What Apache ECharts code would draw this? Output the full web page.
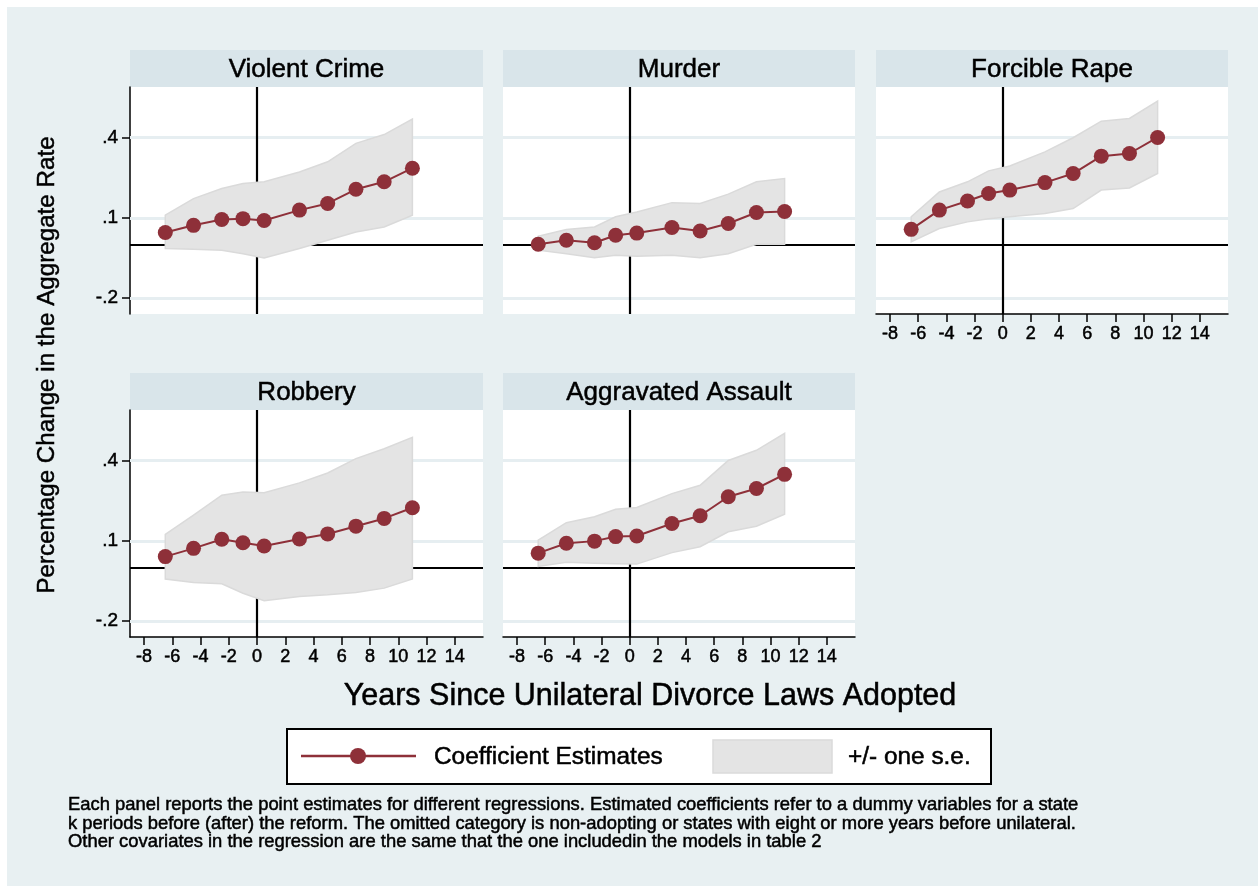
<!DOCTYPE html>
<html><head><meta charset="utf-8">
<script src="https://cdn.jsdelivr.net/npm/echarts@6/dist/echarts.min.js"></script>
<style>html,body{margin:0;padding:0;background:#fff}#c{width:1258px;height:886px}</style>
</head><body><div id="c"></div>
<script>
// ---------- data ----------
const panelTitles = ['Violent Crime', 'Murder', 'Forcible Rape', 'Robbery', 'Aggravated Assault'];
const years = [-6.5, -4.5, -2.5, -1, 0.5, 3, 5, 7, 9, 11];
const xTickValues = [-8, -6, -4, -2, 0, 2, 4, 6, 8, 10, 12, 14];
const yTickValues = [-0.2, 0.1, 0.4];
const yTickLabels = ['-.2', '.1', '.4'];

const violentEst = [0.045, 0.072, 0.094, 0.097, 0.090, 0.129, 0.154, 0.207, 0.235, 0.286];
const violentLo  = [-0.015, -0.018, -0.021, -0.034, -0.050, -0.015, 0.016, 0.047, 0.066, 0.110];
const violentHi  = [0.110, 0.172, 0.210, 0.229, 0.235, 0.272, 0.310, 0.379, 0.412, 0.470];

const murderEst = [0.001, 0.016, 0.007, 0.035, 0.043, 0.064, 0.051, 0.079, 0.120, 0.124];
const murderLo  = [-0.021, -0.034, -0.049, -0.040, -0.044, -0.040, -0.049, -0.034, 0.001, 0.001];
const murderHi  = [0.031, 0.056, 0.066, 0.104, 0.122, 0.157, 0.154, 0.189, 0.235, 0.247];

const rapeEst = [0.057, 0.129, 0.163, 0.191, 0.204, 0.232, 0.266, 0.331, 0.341, 0.401];
const rapeLo  = [0.010, 0.060, 0.085, 0.097, 0.104, 0.116, 0.135, 0.204, 0.212, 0.266];
const rapeHi  = [0.104, 0.197, 0.235, 0.276, 0.294, 0.347, 0.400, 0.462, 0.472, 0.537];

const robberyEst = [0.041, 0.072, 0.106, 0.093, 0.081, 0.107, 0.126, 0.155, 0.184, 0.224];
const robberyLo  = [-0.043, -0.056, -0.061, -0.096, -0.124, -0.108, -0.102, -0.093, -0.077, -0.043];
const robberyHi  = [0.124, 0.196, 0.271, 0.283, 0.280, 0.317, 0.354, 0.408, 0.445, 0.488];

const assaultEst = [0.054, 0.091, 0.099, 0.116, 0.118, 0.165, 0.194, 0.265, 0.296, 0.349];
const assaultLo  = [0.004, 0.020, 0.016, 0.014, 0.013, 0.056, 0.078, 0.134, 0.155, 0.200];
const assaultHi  = [0.103, 0.168, 0.190, 0.218, 0.225, 0.277, 0.308, 0.401, 0.439, 0.503];

const xTitle = 'Years Since Unilateral Divorce Laws Adopted';
const yTitle = 'Percentage Change in the Aggregate Rate';
const legendLine = 'Coefficient Estimates';
const legendBand = '+/- one s.e.';
const noteLines = [
  'Each panel reports the point estimates for different regressions. Estimated coefficients refer to a dummy variables for a state',
  'k periods before (after) the reform. The omitted category is non-adopting or states with eight or more years before unilateral.',
  'Other covariates in the regression are the same that the one includedin the models in table 2'
];

// ---------- build ----------
const panels = [
  [violentEst, violentLo, violentHi],
  [murderEst, murderLo, murderHi],
  [rapeEst, rapeLo, rapeHi],
  [robberyEst, robberyLo, robberyHi],
  [assaultEst, assaultLo, assaultHi]
];
const FONT = '"Liberation Sans", Arial, Helvetica, sans-serif';
const BG = '#e8f0f2', STRIP = '#d9e5ea', GRIDC = '#e6eef1';
const RED = '#8e3039', BAND = '#e4e4e4', BANDEDGE = '#dadada';
const TB = 0.5; // slight stroke to mimic heavier glyph rendering
const cols = [[130, 353], [503, 352], [876, 352]];
const rows = [{strip: 50, top: 87}, {strip: 373, top: 410}];
const PH = 227;
const pos = [[0, 0], [0, 1], [0, 2], [1, 0], [1, 1]];
const showX = [false, false, true, true, true];
const showY = [true, false, false, true, false];

const grid = [], xAxis = [], yAxis = [], series = [], graphic = [];

function txt(x, y, text, size, align, extra) {
  return Object.assign({type: 'text', x: x, y: y, silent: true,
    style: {text: text, font: size + 'px ' + FONT, fill: '#000', textAlign: align || 'left',
      textVerticalAlign: 'middle', stroke: '#000', lineWidth: TB}}, extra || {});
}

graphic.push({type: 'rect', shape: {x: 0, y: 0, width: 1258, height: 7}, style: {fill: '#fff'}, silent: true});
graphic.push({type: 'rect', shape: {x: 0, y: 0, width: 7, height: 886}, style: {fill: '#fff'}, silent: true});

pos.forEach(([r, c], i) => {
  const [left, width] = cols[c];
  const row = rows[r];
  grid.push({left: left, top: row.top, width: width, height: PH, show: true,
    backgroundColor: '#ffffff', borderWidth: 0, containLabel: false});
  graphic.push({type: 'rect', shape: {x: left, y: row.strip, width: width, height: row.top - row.strip},
    style: {fill: STRIP}, silent: true});
  graphic.push(txt(left + width / 2, row.strip + (row.top - row.strip) / 2 + 1, panelTitles[i], 26, 'center'));

  xAxis.push({type: 'value', gridIndex: i, min: -9, max: 16,
    axisLine: {show: showX[i], onZero: false, lineStyle: {color: '#000', width: 1.5}},
    axisTick: {show: showX[i], customValues: xTickValues, length: 8, lineStyle: {color: '#000', width: 1.5}},
    axisLabel: {show: showX[i], customValues: xTickValues, formatter: v => String(v), fontSize: 18,
      fontFamily: FONT, color: '#000', margin: 11, textBorderColor: '#000', textBorderWidth: TB},
    splitLine: {show: false}});
  yAxis.push({type: 'value', gridIndex: i, min: -0.26, max: 0.59,
    axisLine: {show: showY[i], onZero: false, lineStyle: {color: '#000', width: 1.5}},
    axisTick: {show: showY[i], customValues: yTickValues, length: 8, lineStyle: {color: '#000', width: 1.5}},
    axisLabel: {show: showY[i], customValues: yTickValues,
      formatter: v => yTickLabels[yTickValues.findIndex(t => Math.abs(t - v) < 1e-9)] || '',
      fontSize: 19, fontFamily: FONT, color: '#000', margin: 12, textBorderColor: '#000', textBorderWidth: TB},
    splitLine: {show: false}});

  const [est, lo, hi] = panels[i];
  // gridlines
  series.push({type: 'line', xAxisIndex: i, yAxisIndex: i, data: [], silent: true, z: 1,
    markLine: {z: 1, silent: true, symbol: ['none', 'none'], label: {show: false}, animation: false,
      lineStyle: {color: GRIDC, width: 3, type: 'solid'},
      data: yTickValues.map(v => ({yAxis: v}))}});
  // reference lines at zero
  series.push({type: 'line', xAxisIndex: i, yAxisIndex: i, data: [], silent: true, z: 2,
    markLine: {z: 2, silent: true, symbol: ['none', 'none'], label: {show: false}, animation: false,
      lineStyle: {color: '#000', width: 2.2, type: 'solid'},
      data: [{yAxis: 0}, {xAxis: 0}]}});
  // band
  series.push({type: 'custom', xAxisIndex: i, yAxisIndex: i, z: 3, silent: true,
    data: years.map((x, k) => [x, lo[k], hi[k]]),
    encode: {x: 0, y: [1, 2]},
    renderItem: function (params, api) {
      if (params.dataIndex !== 0) return null;
      const pts = [];
      for (let k = 0; k < years.length; k++) pts.push(api.coord([years[k], hi[k]]));
      for (let k = years.length - 1; k >= 0; k--) pts.push(api.coord([years[k], lo[k]]));
      return {type: 'polygon', shape: {points: pts},
        style: {fill: BAND, stroke: BANDEDGE, lineWidth: 1.5}};
    }});
  // estimates
  series.push({type: 'line', xAxisIndex: i, yAxisIndex: i, z: 4, silent: true,
    data: years.map((x, k) => [x, est[k]]),
    symbol: 'circle', symbolSize: 15, showAllSymbol: true,
    lineStyle: {color: RED, width: 2}, itemStyle: {color: RED}});
});

// axis titles
graphic.push(txt(650, 697, xTitle, 30.5, 'center'));
graphic.push(txt(47, 365, yTitle, 24.2, 'center', {rotation: Math.PI / 2}));

// legend
graphic.push({type: 'rect', shape: {x: 287, y: 729, width: 704, height: 55},
  style: {fill: '#fff', stroke: '#000', lineWidth: 2}, silent: true});
graphic.push({type: 'line', shape: {x1: 301, y1: 756, x2: 416, y2: 756},
  style: {stroke: RED, lineWidth: 2.5}, silent: true});
graphic.push({type: 'circle', shape: {cx: 358, cy: 756, r: 8}, style: {fill: RED}, silent: true});
graphic.push(txt(434, 757, legendLine, 24.4));
graphic.push({type: 'rect', shape: {x: 713, y: 740, width: 119, height: 33},
  style: {fill: BAND, stroke: BANDEDGE, lineWidth: 1.5}, silent: true});
graphic.push(txt(848, 757, legendBand, 24.4));

// note
noteLines.forEach((t, k) => {
  graphic.push(txt(68, 805 + k * 18.5, t, 18.4));
});

const chart = echarts.init(document.getElementById('c'), null, {renderer: 'canvas'});
chart.setOption({
  animation: false,
  backgroundColor: BG,
  grid: grid, xAxis: xAxis, yAxis: yAxis, series: series, graphic: graphic
});
</script>
</body></html>
